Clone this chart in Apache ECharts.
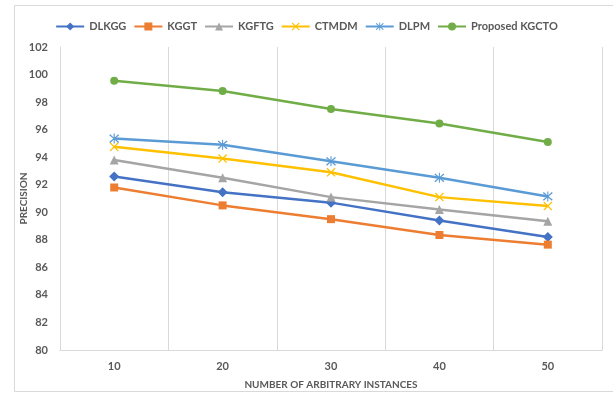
<!DOCTYPE html>
<html>
<head>
<meta charset="utf-8">
<script src="https://cdn.jsdelivr.net/npm/echarts@6/dist/echarts.min.js"></script>
<style>
  html, body { margin: 0; padding: 0; background: #fff; }
  #chart { width: 613px; height: 395px; }
</style>
</head>
<body>
<div id="chart"></div>
<script>
// Precision by number of arbitrary instances
const categories = ['10', '20', '30', '40', '50'];
const dlkgg   = [92.6, 91.45, 90.7, 89.4, 88.2];
const kggt    = [91.8, 90.5, 89.5, 88.35, 87.65];
const kgftg   = [93.8, 92.5, 91.1, 90.2, 89.35];
const ctmdm   = [94.75, 93.9, 92.9, 91.1, 90.45];
const dlpm    = [95.35, 94.9, 93.7, 92.5, 91.15];
const kgcto   = [99.55, 98.8, 97.5, 96.45, 95.1];
const yTicks  = { min: 80, max: 102, step: 2 };

const FONT = 'Lato, "Liberation Sans", sans-serif';
const TXT = '#595959';

const xMark = 'path://M0,1 L1,0 L5,4 L9,0 L10,1 L6,5 L10,9 L9,10 L5,6 L1,10 L0,9 L4,5 Z';
const starMark = 'path://M0,1.6 L1,0.6 L5,4.3 L9,0.6 L10,1.6 L5.9,5 L10,8.4 L9,9.4 L5,5.7 L1,9.4 L0,8.4 L4.1,5 Z M4.45,0 L5.55,0 L5.55,10 L4.45,10 Z';

function line(name, data, color, symbol, size) {
  return {
    name, type: 'line', data,
    symbol, symbolSize: size,
    lineStyle: { color, width: 2.5 },
    itemStyle: { color },
    emphasis: { disabled: true },
    z: 3
  };
}

const chart = echarts.init(document.getElementById('chart'), null, { renderer: 'canvas' });
chart.setOption({
  animation: false,
  backgroundColor: '#fff',
  graphic: [{
    type: 'rect', silent: true, z: -1,
    shape: { x: 14.5, y: 5.5, width: 640, height: 386 },
    style: { fill: 'none', stroke: '#d9d9d9', lineWidth: 1 }
  }],
  legend: {
    top: 16, left: 'center',
    itemWidth: 28, itemHeight: 10, itemGap: 7,
    textStyle: { fontFamily: FONT, fontWeight: 'bold', fontSize: 11, color: TXT },
    data: ['DLKGG', 'KGGT', 'KGFTG', 'CTMDM', 'DLPM', 'Proposed KGCTO']
  },
  grid: { left: 60, right: 11, top: 47, bottom: 45, containLabel: false },
  xAxis: {
    type: 'category', data: categories, boundaryGap: true,
    name: 'NUMBER OF ARBITRARY INSTANCES', nameLocation: 'middle', nameGap: 30,
    nameMoveOverlap: false,
    nameTextStyle: { fontFamily: FONT, fontWeight: 'bold', fontSize: 10, color: TXT },
    axisLine: { lineStyle: { color: '#d9d9d9', width: 1 } },
    axisTick: { show: false },
    axisLabel: { fontFamily: FONT, fontWeight: 'bold', fontSize: 11, color: TXT, margin: 11 },
    splitLine: { show: true, lineStyle: { color: '#d9d9d9', width: 1 } }
  },
  yAxis: {
    type: 'value', min: yTicks.min, max: yTicks.max, interval: yTicks.step,
    name: 'PRECISION', nameLocation: 'middle', nameGap: 31,
    nameMoveOverlap: false,
    nameTextStyle: { fontFamily: FONT, fontWeight: 'bold', fontSize: 10, color: TXT },
    axisLine: { show: true, lineStyle: { color: '#d9d9d9', width: 1 } },
    axisTick: { show: false },
    axisLabel: { fontFamily: FONT, fontWeight: 'bold', fontSize: 11, color: TXT, margin: 12 },
    splitLine: { show: false }
  },
  series: [
    line('DLKGG', dlkgg, '#4472C4', 'diamond', 10),
    line('KGGT', kggt, '#ED7D31', 'rect', 8),
    line('KGFTG', kgftg, '#A5A5A5', 'triangle', 9),
    line('CTMDM', ctmdm, '#FFC000', xMark, 9),
    line('DLPM', dlpm, '#5B9BD5', starMark, 10),
    line('Proposed KGCTO', kgcto, '#70AD47', 'circle', 8)
  ]
});
</script>
</body>
</html>
